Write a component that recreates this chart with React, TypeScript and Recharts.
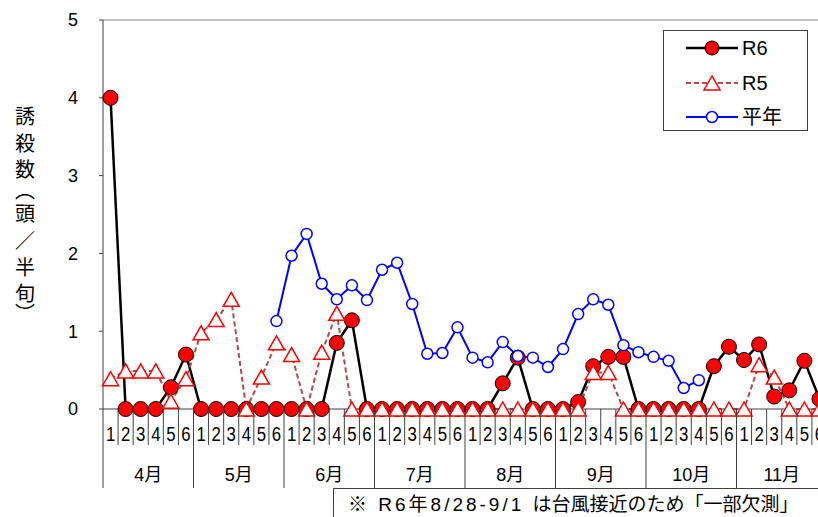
import { LineChart, Line, XAxis, YAxis, ReferenceLine, Legend } from 'recharts';

const months = ['4月', '5月', '6月', '7月', '8月', '9月', '10月', '11月'];
const periods = ['1', '2', '3', '4', '5', '6'];

// R6 (this year)
const r6 = [
  4.0, 0, 0, 0, 0.28, 0.7,
  0, 0, 0, 0, 0, 0,
  0, 0, 0, 0.85, 1.14, 0,
  0, 0, 0, 0, 0, 0,
  0, 0, 0.33, 0.66, 0, 0,
  0, 0.09, 0.55, 0.67, 0.67, 0,
  0, 0, 0, 0, 0.55, 0.8,
  0.63, 0.83, 0.16, 0.24, 0.62, 0.13,
];

// R5 (last year)
const r5 = [
  0.39, 0.49, 0.49, 0.49, 0.1, 0.39,
  0.98, 1.15, 1.41, 0, 0.41, 0.85,
  0.7, 0, 0.73, 1.23, 0, 0,
  0, 0, 0, 0, 0, 0,
  0, 0, 0, 0, 0, 0,
  0, 0, 0.47, 0.47, 0, 0,
  0, 0, 0, 0, 0, 0,
  0, 0.57, 0.41, 0, 0, 0,
];

// 平年 (average year)
const heinen = [
  null, null, null, null, null, null,
  null, null, null, null, null, 1.13,
  1.97, 2.25, 1.61, 1.41, 1.59, 1.4,
  1.79, 1.88, 1.35, 0.71, 0.72, 1.05,
  0.66, 0.6, 0.86, 0.68, 0.66, 0.54,
  0.77, 1.22, 1.41, 1.34, 0.82, 0.73,
  0.67, 0.62, 0.27, 0.37, null, null,
  null, null, null, null, null, null,
];

const yTicks = [0, 1, 2, 3, 4, 5];
const yLabelChars = ['誘', '殺', '数', '︵', '頭', '／', '半', '旬', '︶'];
const notePrefix = '※ R6年8/28-9/1 ';
const noteRest = 'は台風接近のため「一部欠測」';

const data = months.flatMap((m, mi) =>
  periods.map((p, pi) => {
    const i = mi * 6 + pi;
    return { key: `${m}-${p}`, month: m, period: p, r6: r6[i], r5: r5[i], heinen: heinen[i] };
  })
);

const W = 840;
const H = 517;
const LEFT = 103;
const RIGHT = 13;
const CELL = (W - LEFT - RIGHT) / data.length;
const FONT = '"Liberation Sans", "Noto Sans CJK JP", sans-serif';
const AXIS = '#404040';

function XTick(props: any) {
  const { x, y, index } = props;
  const d = data[index];
  if (!d) return null;
  const right = x + CELL / 2;
  const endOfMonth = index % 6 === 5;
  return (
    <g>
      {index === 0 && <line x1={x - CELL / 2} x2={x - CELL / 2} y1={y} y2={y + 79} stroke={AXIS} />}
      <line x1={right} x2={right} y1={y} y2={y + (endOfMonth ? 79 : 36)} stroke={AXIS} />
      <text transform={`translate(${x},${y + 32}) scale(0.8,1)`} textAnchor="middle" fontSize={21} fill="#000" fontFamily={FONT}>
        {d.period}
      </text>
      {index % 6 === 2 && (
        <text x={right} y={y + 72} textAnchor="middle" fontSize={18} fill="#000" fontFamily={FONT}>
          {d.month}
        </text>
      )}
    </g>
  );
}

function triPoints(cx: number, cy: number) {
  return `${cx},${cy - 7} ${cx - 8},${cy + 7} ${cx + 8},${cy + 7}`;
}

const renderTri = (p: any) => {
  if (p.cx == null || p.cy == null) return <g key={`t${p.index}`} />;
  return <polygon key={`t${p.index}`} points={triPoints(p.cx, p.cy)} fill="#fff" stroke="#FF0000" strokeWidth={1.5} />;
};

function LegendBox() {
  return (
    <div style={{ width: 145, height: 101, border: `1px solid ${AXIS}`, background: '#fff', boxSizing: 'border-box' }}>
      <svg width={143} height={99} style={{ display: 'block' }}>
        <line x1={22} x2={74} y1={17} y2={17} stroke="#000" strokeWidth={2.5} />
        <circle cx={48} cy={17} r={7} fill="#FF0000" stroke="#000" strokeWidth={1} />
        <text x={78} y={17} dy="0.36em" fontSize={20} fontFamily={FONT}>R6</text>

        <line x1={22} x2={74} y1={52} y2={52} stroke="#B5484A" strokeWidth={2} strokeDasharray="5 3" />
        <polygon points={triPoints(48, 52)} fill="#fff" stroke="#FF0000" strokeWidth={1.5} />
        <text x={78} y={52} dy="0.36em" fontSize={20} fontFamily={FONT}>R5</text>

        <line x1={22} x2={74} y1={86} y2={86} stroke="#0000FF" strokeWidth={2} />
        <circle cx={48} cy={86} r={5.5} fill="#fff" stroke="#0000FF" strokeWidth={1.5} />
        <text x={78} y={86} dy="0.36em" fontSize={20} fontFamily={FONT}>平年</text>
      </svg>
    </div>
  );
}

export default function App() {
  const labelY = [117, 144, 170, 191, 214, 241, 268, 294, 314];
  return (
    <div style={{ position: 'absolute', left: 0, top: 0, width: 818, height: 517, overflow: 'hidden', background: '#fff' }}>
      <LineChart width={W} height={H} data={data} margin={{ top: 20, right: RIGHT, bottom: 0, left: 0 }}>
        <XAxis
          dataKey="key"
          interval={0}
          tick={<XTick />}
          tickLine={false}
          tickSize={0}
          tickMargin={0}
          height={108}
          padding={{ left: CELL / 2, right: CELL / 2 }}
          axisLine={{ stroke: AXIS }}
        />
        <YAxis
          domain={[0, 5]}
          ticks={yTicks}
          width={LEFT}
          tickSize={4}
          tickMargin={21}
          tickLine={{ stroke: AXIS }}
          axisLine={{ stroke: AXIS }}
          tick={{ fontSize: 18, fill: '#000', fontFamily: FONT }}
        />
        <ReferenceLine y={5} stroke="#888" />
        <Legend
          layout="vertical"
          align="center"
          verticalAlign="middle"
          wrapperStyle={{ left: 663, top: 30, width: 145, height: 101 }}
          content={<LegendBox />}
        />
        <Line
          dataKey="r6"
          stroke="#000"
          strokeWidth={2.5}
          dot={{ r: 7.5, fill: '#FF0000', stroke: '#000', strokeWidth: 1 }}
          activeDot={false}
          isAnimationActive={false}
        />
        <Line
          dataKey="r5"
          stroke="#B5484A"
          strokeWidth={2}
          strokeDasharray="5 3"
          dot={renderTri}
          activeDot={false}
          isAnimationActive={false}
        />
        <Line
          dataKey="heinen"
          stroke="#0000FF"
          strokeWidth={2}
          dot={{ r: 5.5, fill: '#fff', stroke: '#0000FF', strokeWidth: 1.5 }}
          activeDot={false}
          isAnimationActive={false}
        />
      </LineChart>
      <svg width={50} height={340} style={{ position: 'absolute', left: 0, top: 0 }}>
        {yLabelChars.map((c, i) => (
          <text key={i} x={25} y={labelY[i]} dy="0.36em" textAnchor="middle" fontSize={20} fontFamily={FONT} fill="#000">
            {c}
          </text>
        ))}
      </svg>
      <div
        style={{
          position: 'absolute',
          left: 333,
          top: 488,
          width: 520,
          height: 40,
          border: `1px solid ${AXIS}`,
          background: '#fff',
          fontFamily: FONT,
          fontSize: 19,
          lineHeight: '31px',
          paddingLeft: 14,
          boxSizing: 'border-box',
          whiteSpace: 'nowrap',
        }}
      >
        <span style={{ letterSpacing: 3 }}>{notePrefix}</span>
        <span>{noteRest}</span>
      </div>
    </div>
  );
}
